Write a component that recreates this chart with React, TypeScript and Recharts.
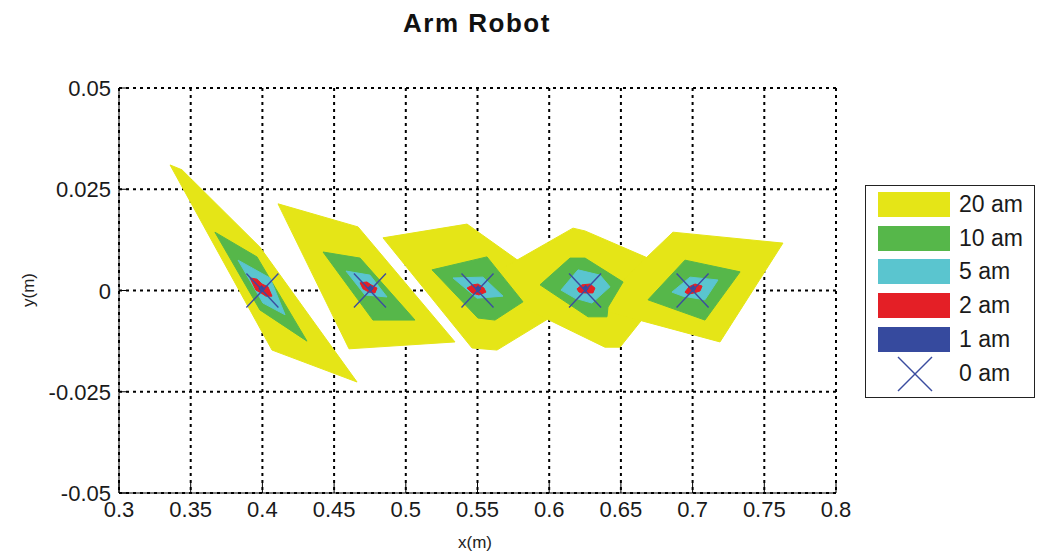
import React from 'react';
import { ScatterChart, Scatter, XAxis, YAxis, CartesianGrid } from 'recharts';

const FONT = '"Liberation Sans", Arial, sans-serif';

const xTicks = [0.3, 0.35, 0.4, 0.45, 0.5, 0.55, 0.6, 0.65, 0.7, 0.75, 0.8];
const yTicks = [-0.05, -0.025, 0, 0.025, 0.05];

const levelNames = ['20 am', '10 am', '5 am', '2 am', '1 am', '0 am'];
const levelColors = ['#e5e517', '#56b74a', '#5ac5cf', '#e41f26', '#364a9e', '#3b4c9f'];

// arm poses, drawn as x markers
const poseX = [0.4, 0.475, 0.55, 0.625, 0.7];
const poseY = [0, 0, 0, 0, 0];

type Pt = { x: number; y: number };
const toPts = (a: number[][]): Pt[] => a.map(([x, y]) => ({ x, y }));

// reachable regions per level, one polygon per pose
const zone20 = [
  [[0.3356, 0.031], [0.3439, 0.0298], [0.3983, 0.0107], [0.466, -0.0226], [0.4067, -0.0147]],
  [[0.4109, 0.0214], [0.4667, 0.0157], [0.5343, -0.0127], [0.4604, -0.0144]],
  [[0.4841, 0.013], [0.5427, 0.0164], [0.6187, -0.0028], [0.5636, -0.0147], [0.5462, -0.0142]],
  [[0.5483, 0.0016], [0.6166, 0.0154], [0.625, 0.0147], [0.6912, 0.0046], [0.6494, -0.014], [0.6389, -0.014]],
  [[0.6312, -0.0043], [0.6863, 0.0144], [0.763, 0.0117], [0.7191, -0.0127]],
];

const zone10 = [
  [[0.3669, 0.0144], [0.3962, 0.0083], [0.4311, -0.0125], [0.3983, -0.0048]],
  [[0.4423, 0.0095], [0.4681, 0.008], [0.5064, -0.0073], [0.4771, -0.0073]],
  [[0.5183, 0.0051], [0.5566, 0.0083], [0.5817, -0.0028], [0.5622, -0.0073], [0.5503, -0.0068]],
  [[0.5936, 0.0014], [0.6145, 0.008], [0.625, 0.008], [0.6515, 0.0021], [0.641, -0.0041], [0.6403, -0.0065], [0.6271, -0.0065]],
  [[0.6689, -0.0023], [0.6947, 0.0075], [0.7331, 0.0046], [0.7086, -0.0073]],
];

const zone5 = [
  [[0.383, 0.0075], [0.4053, 0.0031], [0.4158, -0.006], [0.4004, -0.0031]],
  [[0.4583, 0.0048], [0.475, 0.0038], [0.4869, -0.0016], [0.4715, -0.0011]],
  [[0.5329, 0.0031], [0.5538, 0.0033], [0.5678, -0.0014], [0.5497, -0.0019]],
  [[0.6082, 0.0001], [0.6201, 0.0051], [0.6354, 0.0038], [0.6424, 0.0009], [0.6298, -0.0031], [0.618, -0.0019]],
  [[0.6856, -0.0004], [0.6982, 0.0033], [0.7177, 0.0026], [0.7086, -0.0023], [0.6932, -0.0014]],
];

const zone2 = [
  [[0.3914, 0.0031], [0.3962, 0.0028], [0.3997, 0.0016], [0.4039, 0.0009], [0.4067, -0.0014], [0.4025, -0.0014], [0.399, -0.0006], [0.3955, 0.0001], [0.3934, 0.0016]],
  [[0.4681, 0.0019], [0.4729, 0.0021], [0.4757, 0.0014], [0.4799, 0.0006], [0.4785, -0.0006], [0.4743, -0.0004], [0.4702, 0.0004]],
  [[0.5427, 0.0006], [0.5469, 0.0014], [0.5504, 0.0016], [0.5545, 0.0006], [0.5559, -0.0004], [0.551, -0.0011], [0.5462, -0.0006]],
  [[0.6194, 0.0004], [0.6229, 0.0014], [0.6285, 0.0016], [0.6319, 0.0006], [0.6305, -0.0006], [0.625, -0.0006], [0.6208, -0.0004]],
  [[0.6947, -0.0004], [0.6975, 0.0009], [0.7017, 0.0016], [0.7066, 0.0011], [0.7052, -0.0001], [0.701, -0.0006], [0.6968, -0.0009]],
];

const zone1 = [
  [[0.3975, 0.0005], [0.3995, 0.0012], [0.4015, 0.0003], [0.3995, -0.0004]],
  [[0.4735, 0.0006], [0.4755, 0.0013], [0.4772, 0.0004], [0.4752, -0.0002]],
  [[0.5485, 0.0005], [0.5505, 0.0012], [0.5522, 0.0003], [0.5502, -0.0004]],
  [[0.6235, 0.0006], [0.6255, 0.0013], [0.6272, 0.0004], [0.6252, -0.0003]],
  [[0.6985, 0.0006], [0.7005, 0.0013], [0.7022, 0.0004], [0.7002, -0.0003]],
];

const zones = [zone20, zone10, zone5, zone2, zone1];
const poses = poseX.map((x, i) => ({ x, y: poseY[i] }));

// scatter "line" renderer that fills the polygon through the scaled points
const fillPolygon = (color: string) => (props: any) => {
  const pts = (props.points || []).filter((p: any) => p.x != null && p.y != null);
  if (!pts.length) return <g />;
  const d = pts.map((p: any, i: number) => `${i ? 'L' : 'M'}${p.x},${p.y}`).join(' ') + ' Z';
  return <path d={d} fill={color} stroke={color} strokeWidth={1} />;
};

const NoDot = () => <g />;

const CrossMark = (props: any) => {
  const { cx, cy } = props;
  if (cx == null || cy == null) return <g />;
  return (
    <g stroke={levelColors[5]} strokeWidth={1.4}>
      <line x1={cx - 16} y1={cy - 17} x2={cx + 16} y2={cy + 17} />
      <line x1={cx + 16} y1={cy - 17} x2={cx - 16} y2={cy + 17} />
    </g>
  );
};

const BottomTick = (props: any) => {
  const { x, y, payload } = props;
  return (
    <g>
      <line x1={x} y1={y} x2={x} y2={y - 10} stroke="#000" />
      <text x={x} y={y + 24} textAnchor="middle" fontSize={22} fill="#1a1a1a" fontFamily={FONT}>
        {String(payload.value)}
      </text>
    </g>
  );
};

const LeftTick = (props: any) => {
  const { x, y, payload } = props;
  return (
    <g>
      <line x1={x} y1={y} x2={x + 10} y2={y} stroke="#000" />
      <text x={x - 8} y={y + 8} textAnchor="end" fontSize={22} fill="#1a1a1a" fontFamily={FONT}>
        {String(payload.value)}
      </text>
    </g>
  );
};

const TopTick = (props: any) => {
  const { x, y } = props;
  return <line x1={x} y1={y} x2={x} y2={y + 10} stroke="#000" />;
};

const RightTick = (props: any) => {
  const { x, y } = props;
  return <line x1={x} y1={y} x2={x - 10} y2={y} stroke="#000" />;
};

const LegendBox = () => (
  <div
    style={{
      position: 'absolute', left: 865, top: 185, width: 168, height: 211,
      border: '1.5px solid #222', background: '#fff', fontFamily: FONT,
    }}
  >
    {levelNames.map((name, i) => (
      <div key={name} style={{ position: 'absolute', left: 12, top: 6 + i * 33.7, height: 25, display: 'flex', alignItems: 'center' }}>
        {i < 5 ? (
          <div style={{ width: 72, height: 25, background: levelColors[i] }} />
        ) : (
          <svg width={72} height={25} style={{ overflow: 'visible' }}>
            <g stroke={levelColors[5]} strokeWidth={1.4}>
              <line x1={20} y1={-4} x2={54} y2={30} />
              <line x1={54} y1={-4} x2={20} y2={30} />
            </g>
          </svg>
        )}
        <span style={{ marginLeft: 9, fontSize: 23, color: '#1a1a1a' }}>{name}</span>
      </div>
    ))}
  </div>
);

const App: React.FC = () => {
  return (
    <div style={{ position: 'absolute', left: 0, top: 0, width: 1038, height: 555, background: '#fff' }}>
      <ScatterChart width={1038} height={555} margin={{ top: 88, right: 202, bottom: 22, left: 59 }}>
        <CartesianGrid stroke="#000" strokeWidth={2} strokeDasharray="3 4" />
        <XAxis
          type="number" dataKey="x" domain={[0.3, 0.8]} ticks={xTicks} allowDataOverflow
          height={40} tickSize={0} tickMargin={0} tick={<BottomTick />} axisLine={{ stroke: '#000' }}
        />
        <YAxis
          type="number" dataKey="y" domain={[-0.05, 0.05]} ticks={yTicks} allowDataOverflow
          width={60} tickSize={0} tickMargin={0} tick={<LeftTick />} axisLine={{ stroke: '#000' }}
        />
        <XAxis
          xAxisId="top" orientation="top" type="number" domain={[0.3, 0.8]} ticks={xTicks}
          height={0} tickSize={0} tickMargin={0} tick={<TopTick />} axisLine={{ stroke: '#000' }}
        />
        <YAxis
          yAxisId="right" orientation="right" type="number" domain={[-0.05, 0.05]} ticks={yTicks}
          width={0} tickSize={0} tickMargin={0} tick={<RightTick />} axisLine={{ stroke: '#000' }}
        />
        {zones.map((zone, li) =>
          zone.map((poly, pi) => (
            <Scatter
              key={`${li}-${pi}`}
              data={toPts(poly)}
              fill={levelColors[li]}
              line={fillPolygon(levelColors[li])}
              lineType="joint"
              shape={NoDot}
              isAnimationActive={false}
            />
          ))
        )}
        <Scatter data={poses} shape={CrossMark} isAnimationActive={false} />
      </ScatterChart>

      <svg width={1038} height={555} style={{ position: 'absolute', left: 0, top: 0, pointerEvents: 'none' }}>
        <text x={477} y={32} textAnchor="middle" fontSize={26} fontWeight="bold" letterSpacing={1.5} fill="#111" fontFamily={FONT}>
          Arm Robot
        </text>
        <text x={475} y={548} textAnchor="middle" fontSize={17} fill="#222" fontFamily={FONT}>x(m)</text>
        <text x={34} y={290} textAnchor="middle" fontSize={17} fill="#222" fontFamily={FONT} transform="rotate(-90 34 290)">y(m)</text>
      </svg>

      <LegendBox />
    </div>
  );
};

export default App;
